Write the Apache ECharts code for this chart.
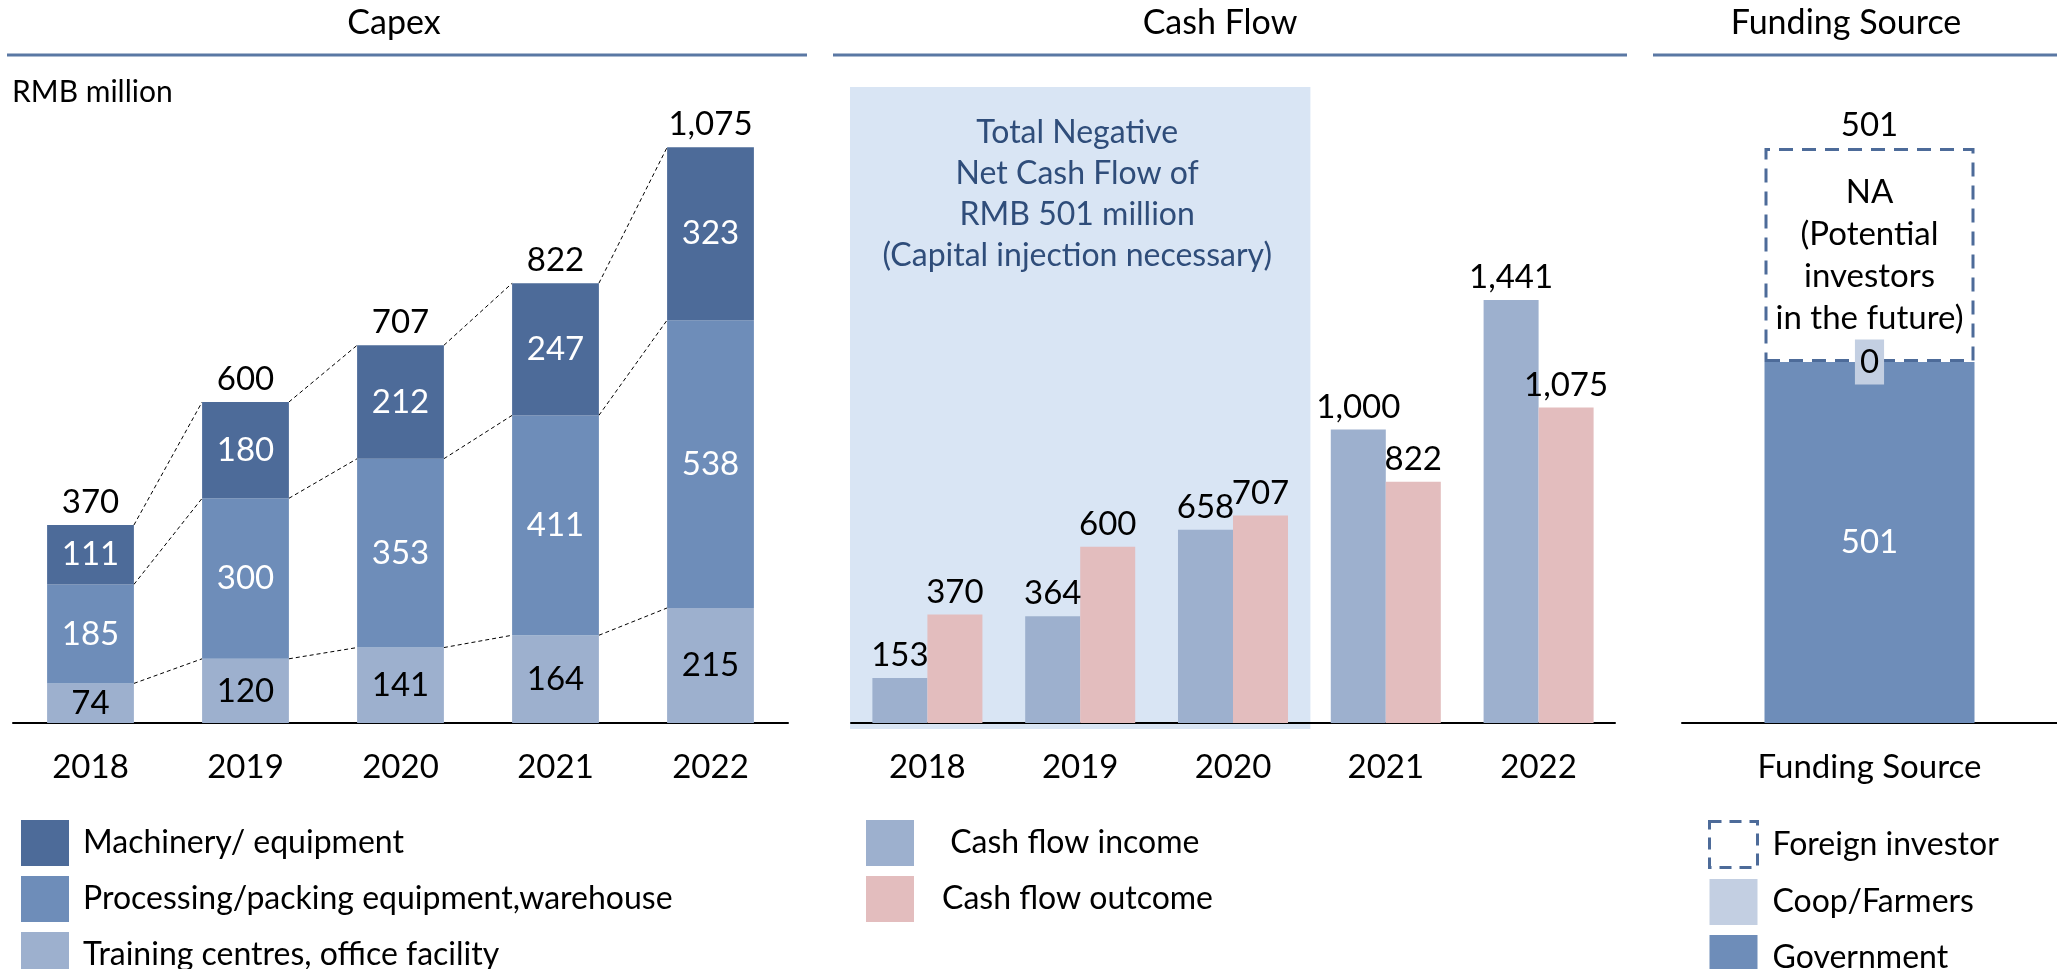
<!DOCTYPE html>
<html>
<head>
<meta charset="utf-8">
<title>Capex / Cash Flow / Funding Source</title>
<script src="https://cdn.jsdelivr.net/npm/echarts@6/dist/echarts.min.js"></script>
<style>
  html, body { margin: 0; padding: 0; background: #fff; }
  #chart { width: 2057px; height: 969px; }
</style>
</head>
<body>
<div id="chart"></div>
<script>
// ---- data ----
var years = ['2018', '2019', '2020', '2021', '2022'];
var machinery = [111, 180, 212, 247, 323];
var processing = [185, 300, 353, 411, 538];
var training = [74, 120, 141, 164, 215];
var capexTotals = [370, 600, 707, 822, 1075];

var cashIncome = [153, 364, 658, 1000, 1441];
var cashOutcome = [370, 600, 707, 822, 1075];

var fundingCats = ['Funding Source'];
var government = [501];
var coopFarmers = [0];
var foreignBox = [297];      // height of the dashed "NA" box as drawn
var fundingTotal = [501];

var FONT = 'Lato, "Open Sans", sans-serif';
var FS = 33;
var LFS = 32;   // legend text

// colours
var cMach = '#4D6B99';
var cProc = '#6E8DB9';
var cTrain = '#9DB0CE';
var cIncome = '#9DB0CE';
var cOutcome = '#E3BDBE';
var cCoop = '#C3CFE2';

function fmt(v) { return Number(v).toLocaleString('en-US'); }

// grids (px)
var gridTop = 81, gridH = 642;
var base = gridTop + gridH;
var g1 = { left: 13, width: 775 };
var g2 = { left: 851, width: 764 };
var g3 = { left: 1682, width: 375 };

// cumulative levels for the dashed connectors
var lvTrain = training.slice();
var lvProc = training.map(function (v, i) { return v + processing[i]; });
var lvTop = lvProc.map(function (v, i) { return v + machinery[i]; });

var chart = echarts.init(document.getElementById('chart'));

var xAxisCommon = {
    type: 'category',
    axisTick: { show: false },
    axisLine: { lineStyle: { color: '#000', width: 2 } },
    axisLabel: { fontFamily: FONT, fontSize: FS, color: '#000', margin: 28 }
};

function innerLabel(color) {
    return { show: true, position: 'inside', color: color, fontFamily: FONT, fontSize: FS };
}

function legendBox(left, textPad, data) {
    return {
        orient: 'vertical', left: left, top: 820, height: 200, padding: 0,
        itemWidth: 48, itemHeight: 46, itemGap: 10, icon: 'rect',
        textStyle: { fontFamily: FONT, fontSize: LFS, color: '#000', padding: [0, 0, 0, textPad] },
        data: data
    };
}

var band2 = g2.width / years.length;
var titleStyle = { fontFamily: FONT, fontSize: 34, fontWeight: 'normal', color: '#000' };

var cashLegend = legendBox(866, 23, ['Cash flow income', 'Cash flow outcome']);
cashLegend.formatter = function (name) { return name === 'Cash flow income' ? ' ' + name : name; };

var option = {
    animation: false,
    title: [
        { text: 'Capex', left: 394, top: 6, textAlign: 'center', padding: 0, textStyle: titleStyle },
        { text: 'Cash Flow', left: 1220, top: 6, textAlign: 'center', padding: 0, textStyle: titleStyle },
        { text: 'Funding Source', left: 1846, top: 6, textAlign: 'center', padding: 0, textStyle: titleStyle },
        { text: 'RMB million', left: 12, top: 77, padding: 0,
          textStyle: { fontFamily: FONT, fontSize: 30, fontWeight: 'normal', color: '#000' } }
    ],
    grid: [
        { left: g1.left, width: g1.width, top: gridTop, height: gridH },
        { left: g2.left, width: g2.width, top: gridTop, height: gridH },
        { left: g3.left, width: g3.width, top: gridTop, height: gridH }
    ],
    xAxis: [
        Object.assign({ gridIndex: 0, data: years }, xAxisCommon),
        Object.assign({ gridIndex: 1, data: years }, xAxisCommon),
        Object.assign({ gridIndex: 2, data: fundingCats }, xAxisCommon)
    ],
    yAxis: [
        { gridIndex: 0, type: 'value', min: 0, max: 1200, show: false },
        { gridIndex: 1, type: 'value', min: 0, max: 2187, show: false },
        { gridIndex: 2, type: 'value', min: 0, max: 891, show: false }
    ],
    legend: [
        legendBox(21, 9, ['Machinery/ equipment', 'Processing/packing equipment,warehouse', 'Training centres, office facility']),
        cashLegend,
        legendBox(1708, 10, [
            { name: 'Foreign investor',
              itemStyle: { color: '#fff', borderColor: cMach, borderWidth: 3, borderType: [12, 8] } },
            'Coop/Farmers', 'Government'])
    ],
    graphic: [
        // header rules
        { type: 'line', shape: { x1: 7, y1: 55, x2: 807, y2: 55 }, style: { stroke: '#5A78A4', lineWidth: 3 } },
        { type: 'line', shape: { x1: 833, y1: 55, x2: 1627, y2: 55 }, style: { stroke: '#5A78A4', lineWidth: 3 } },
        { type: 'line', shape: { x1: 1653, y1: 55, x2: 2057, y2: 55 }, style: { stroke: '#5A78A4', lineWidth: 3 } },
        // shaded box over 2018-2020
        { type: 'rect', z: -10,
          shape: { x: g2.left - 1, y: 87, width: band2 * 3 + 2, height: base + 6 - 87 },
          style: { fill: '#D9E5F4' } },
        { type: 'text', z: 5, x: g2.left + band2 * 1.5 - 3, y: 112,
          style: {
              text: 'Total Negative\nNet Cash Flow of\nRMB 501 million\n(Capital injection necessary)',
              fontFamily: FONT, fontSize: 32, lineHeight: 41, fill: '#2F4D7A', textAlign: 'center'
          } }
    ],
    series: [
        // ---- Capex ----
        { name: 'Training centres, office facility', type: 'bar', stack: 'capex',
          xAxisIndex: 0, yAxisIndex: 0, barCategoryGap: '44%',
          itemStyle: { color: cTrain }, label: innerLabel('#000'), data: training },
        { name: 'Processing/packing equipment,warehouse', type: 'bar', stack: 'capex',
          xAxisIndex: 0, yAxisIndex: 0,
          itemStyle: { color: cProc }, label: innerLabel('#fff'), data: processing },
        { name: 'Machinery/ equipment', type: 'bar', stack: 'capex',
          xAxisIndex: 0, yAxisIndex: 0,
          itemStyle: { color: cMach }, label: innerLabel('#fff'), data: machinery },
        { name: 'capexTotal', type: 'bar', stack: 'capex',
          xAxisIndex: 0, yAxisIndex: 0,
          itemStyle: { color: 'transparent' },
          label: { show: true, position: 'top', distance: 6, color: '#000', fontFamily: FONT, fontSize: FS,
                   formatter: function (p) { return fmt(capexTotals[p.dataIndex]); } },
          data: years.map(function () { return 0; }) },
        // dashed connectors between the stacked bars
        { name: 'connectors', type: 'custom', xAxisIndex: 0, yAxisIndex: 0, z: 1, silent: true,
          renderItem: function (params, api) {
              var i = api.value(0);
              var half = api.size([1, 0])[0] * 0.56 / 2;
              var children = [lvTrain, lvProc, lvTop].map(function (lv) {
                  var a = api.coord([i, lv[i]]);
                  var b = api.coord([i + 1, lv[i + 1]]);
                  return { type: 'line',
                           shape: { x1: a[0] + half, y1: a[1], x2: b[0] - half, y2: b[1] },
                           style: { stroke: '#000', lineWidth: 1, lineDash: [4, 3] } };
              });
              return { type: 'group', children: children };
          },
          encode: { x: 0, y: 1 },
          data: [[0, 0], [1, 0], [2, 0], [3, 0]] },

        // ---- Cash Flow ----
        { name: 'Cash flow income', type: 'bar', xAxisIndex: 1, yAxisIndex: 1,
          barCategoryGap: '28%', barGap: '0%',
          itemStyle: { color: cIncome },
          label: { show: true, position: 'top', distance: 6, color: '#000', fontFamily: FONT, fontSize: FS,
                   formatter: function (p) { return fmt(p.value); } },
          data: cashIncome },
        { name: 'Cash flow outcome', type: 'bar', xAxisIndex: 1, yAxisIndex: 1,
          barCategoryGap: '28%', barGap: '0%',
          itemStyle: { color: cOutcome },
          label: { show: true, position: 'top', distance: 6, color: '#000', fontFamily: FONT, fontSize: FS,
                   formatter: function (p) { return fmt(p.value); } },
          data: cashOutcome },

        // ---- Funding Source ----
        { name: 'Government', type: 'bar', stack: 'fund', xAxisIndex: 2, yAxisIndex: 2,
          barCategoryGap: '44%',
          itemStyle: { color: cProc }, label: innerLabel('#fff'), data: government },
        { name: 'Coop/Farmers', type: 'bar', stack: 'fund', xAxisIndex: 2, yAxisIndex: 2,
          itemStyle: { color: cCoop },
          label: { show: true, position: 'inside', color: '#000', fontFamily: FONT, fontSize: FS,
                   lineHeight: 37, backgroundColor: cCoop, padding: [4, 5, 4, 5],
                   formatter: function (p) { return fmt(p.value); } },
          data: coopFarmers },
        { name: 'Foreign investor', type: 'bar', stack: 'fund', xAxisIndex: 2, yAxisIndex: 2,
          itemStyle: { color: 'rgba(255,255,255,0)', borderColor: cMach, borderWidth: 3, borderType: [14, 9] },
          label: { show: true, position: 'inside', color: '#000', fontFamily: FONT, fontSize: FS, lineHeight: 42,
                   formatter: 'NA\n(Potential\ninvestors\nin the future)' },
          data: foreignBox },
        { name: 'fundTotal', type: 'bar', stack: 'fund', xAxisIndex: 2, yAxisIndex: 2,
          itemStyle: { color: 'transparent' },
          label: { show: true, position: 'top', distance: 6, color: '#000', fontFamily: FONT, fontSize: FS,
                   formatter: function (p) { return fmt(fundingTotal[p.dataIndex]); } },
          data: [0] }
    ]
};

chart.setOption(option);
</script>
</body>
</html>
